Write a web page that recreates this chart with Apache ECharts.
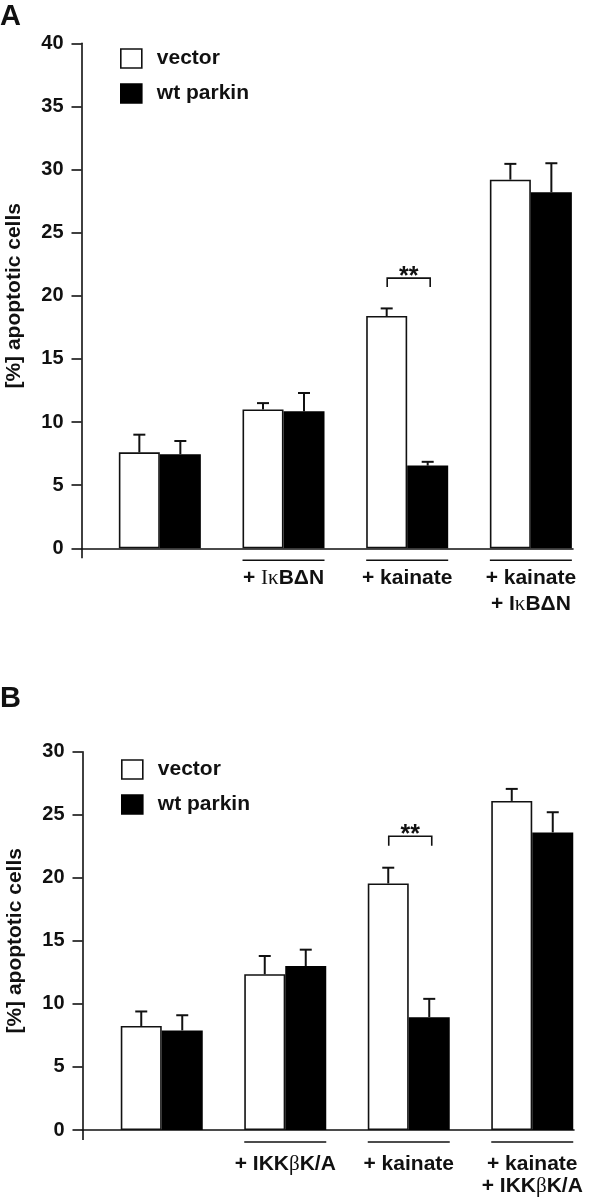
<!DOCTYPE html>
<html><head><meta charset="utf-8">
<script src="https://cdn.jsdelivr.net/npm/echarts@6/dist/echarts.min.js"></script>
<style>html,body{margin:0;padding:0;background:#fff}#c{width:590px;height:1199px}</style>
</head><body><div id="c"></div>
<script>
// ---------- data ----------
const seriesNames = ['vector', 'wt parkin'];
const yAxisTitle = '[%] apoptotic cells';

const panelLetters = ['A', 'B'];

const categoriesA = ['', '+ IκBΔN', '+ kainate', '+ kainate\n+ IκBΔN'];
const vectorA = [7.6, 11.0, 18.4, 29.2];
const vectorErrA = [1.4, 0.5, 0.6, 1.25];
const parkinA = [7.45, 10.85, 6.55, 28.2];
const parkinErrA = [1.05, 1.45, 0.3, 2.3];
const yMaxA = 40;
const sigA = [2, 21.4, 20.7];
const sigLabelA = '**';

const categoriesB = ['', '+ IKKβK/A', '+ kainate', '+ kainate\n+ IKKβK/A'];
const vectorB = [8.25, 12.35, 19.55, 26.1];
const vectorErrB = [1.15, 1.45, 1.25, 0.95];
const parkinB = [7.9, 13.0, 8.95, 23.6];
const parkinErrB = [1.2, 1.3, 1.45, 1.6];
const yMaxB = 30;
const sigB = [2, 23.3, 22.55];
const sigLabelB = '**';

const yStep = 5;

// ---------- styling ----------
const FONT = "'Liberation Sans', Arial, Helvetica, sans-serif";
const SERIF = "'Liberation Serif', 'DejaVu Serif', serif";
const INK = '#111';
const BAR_W = 41;
const FS = 21;

function richLabel(text) {
  const lines = text.split('\n');
  return lines.map(line => {
    let out = '';
    let buf = '';
    // single-line IκB label uses a serif "Iκ" as in the original figure
    const serifI = lines.length === 1 && line.includes('Iκ');
    const chars = [...line];
    for (let k = 0; k < chars.length; k++) {
      const ch = chars[k];
      const isGreek = 'κβ'.includes(ch);
      const isSerifI = serifI && ch === 'I' && chars[k + 1] === 'κ';
      if (isGreek || isSerifI) {
        if (buf) { out += '{t|' + buf + '}'; buf = ''; }
        out += '{g|' + ch + '}';
      } else buf += ch;
    }
    if (buf) out += '{t|' + buf + '}';
    return out;
  }).join('\n');
}

function errRender(offset) {
  return function (params, api) {
    const i = api.value(0), m = api.value(1), e = api.value(2);
    const b = api.coord([i, m]);
    const t = api.coord([i, m + e]);
    const x = b[0] + offset;
    return {
      type: 'group',
      children: [
        { type: 'line', shape: { x1: x, y1: b[1], x2: x, y2: t[1] }, style: { stroke: INK, lineWidth: 2 } },
        { type: 'line', shape: { x1: x - 6, y1: t[1], x2: x + 6, y2: t[1] }, style: { stroke: INK, lineWidth: 2 } }
      ]
    };
  };
}

function underlineRender(params, api) {
  const c = api.coord([api.value(0), 0]);
  const y = c[1] + 12;
  return { type: 'line', shape: { x1: c[0] - BAR_W, y1: y, x2: c[0] + BAR_W, y2: y }, style: { stroke: INK, lineWidth: 1.5 } };
}

function bracketRender(label) {
  return function (params, api) {
    const c = api.coord([api.value(0), api.value(1)]);
    const d = api.coord([api.value(0), api.value(2)]);
    const x1 = c[0] - 20, x2 = c[0] + 23;
    return {
      type: 'group',
      children: [
        { type: 'polyline', shape: { points: [[x1, d[1]], [x1, c[1]], [x2, c[1]], [x2, d[1]]] }, style: { stroke: INK, lineWidth: 1.6, fill: null } },
        { type: 'text', x: (x1 + x2) / 2, y: c[1] - 1, style: { text: label, font: 'bold 25px ' + FONT, fill: INK, align: 'center', verticalAlign: 'middle' } }
      ]
    };
  };
}

function panel(idx, cfg) {
  const g1 = idx * 2, g2 = idx * 2 + 1;
  const grids = [
    { left: cfg.barLeft, width: cfg.barWidthTotal, top: cfg.top, height: cfg.height, outerBoundsMode: 'none', containLabel: false },
    { left: cfg.axisLeft, width: cfg.axisWidth, top: cfg.top, height: cfg.height, outerBoundsMode: 'none', containLabel: false }
  ];
  const xAxes = [
    {
      gridIndex: g1, type: 'category', data: cfg.categories,
      axisLine: { show: false }, axisTick: { show: false },
      axisLabel: {
        interval: 0, margin: cfg.labelMargin, formatter: v => v ? richLabel(v) : '',
        rich: {
          t: { fontFamily: FONT, fontWeight: 'bold', fontSize: FS, color: INK, lineHeight: cfg.labelLineHeight },
          g: { fontFamily: SERIF, fontWeight: 'normal', fontSize: FS, color: INK, lineHeight: cfg.labelLineHeight }
        }
      }
    },
    {
      gridIndex: g2, type: 'value', min: 0, max: 1, splitLine: { show: false },
      axisLine: { show: true, lineStyle: { color: INK, width: 1.6 } },
      axisTick: { show: true, customValues: [0], length: 10, lineStyle: { color: INK, width: 1.6 } },
      axisLabel: { show: false }
    }
  ];
  const yAxes = [
    { gridIndex: g1, type: 'value', min: 0, max: cfg.yMax, interval: yStep, show: false },
    {
      gridIndex: g2, type: 'value', min: 0, max: cfg.yMax, interval: yStep,
      splitLine: { show: false },
      axisLine: { show: true, lineStyle: { color: INK, width: 1.6 } },
      axisTick: { show: true, length: 10, lineStyle: { color: INK, width: 1.6 } },
      axisLabel: { fontFamily: FONT, fontWeight: 'bold', fontSize: 20, color: INK, margin: 18 },
      name: yAxisTitle, nameLocation: 'middle', nameGap: 57,
      nameTextStyle: { fontFamily: FONT, fontWeight: 'bold', fontSize: FS, color: INK }
    }
  ];
  const series = [
    {
      name: seriesNames[0], type: 'bar', xAxisIndex: g1, yAxisIndex: g1,
      data: cfg.vector, barWidth: BAR_W, barGap: '0%',
      itemStyle: { color: '#fff', borderColor: INK, borderWidth: 1.6 }, z: 2
    },
    {
      name: seriesNames[1], type: 'bar', xAxisIndex: g1, yAxisIndex: g1,
      data: cfg.parkin, barWidth: BAR_W, barGap: '0%',
      itemStyle: { color: '#000', borderColor: '#000', borderWidth: 1.6 }, z: 2
    },
    {
      name: 'vector error', type: 'custom', xAxisIndex: g1, yAxisIndex: g1, z: 3, clip: false,
      renderItem: errRender(-BAR_W / 2),
      data: cfg.vector.map((v, i) => [i, v, cfg.vectorErr[i]])
    },
    {
      name: 'wt parkin error', type: 'custom', xAxisIndex: g1, yAxisIndex: g1, z: 3, clip: false,
      renderItem: errRender(BAR_W / 2),
      data: cfg.parkin.map((v, i) => [i, v, cfg.parkinErr[i]])
    },
    {
      name: 'group underline', type: 'custom', xAxisIndex: g1, yAxisIndex: g1, z: 3, clip: false,
      renderItem: underlineRender,
      data: cfg.categories.map((c, i) => c ? [i] : null).filter(Boolean)
    },
    {
      name: 'significance', type: 'custom', xAxisIndex: g1, yAxisIndex: g1, z: 3, clip: false,
      renderItem: bracketRender(cfg.sigLabel),
      data: [cfg.sig]
    }
  ];
  const legend = {
    left: cfg.legendLeft, top: cfg.legendTop, orient: 'vertical',
    itemWidth: 21, itemHeight: 19, itemGap: 14, selectedMode: false,
    padding: 0,
    textStyle: { fontFamily: FONT, fontWeight: 'bold', fontSize: FS, color: INK, padding: [0, 0, 0, 10] },
    data: [
      { name: seriesNames[0], icon: 'rect', itemStyle: { color: '#fff', borderColor: INK, borderWidth: 1.6 } },
      { name: seriesNames[1], icon: 'rect', itemStyle: { color: '#000', borderColor: '#000', borderWidth: 1.6 } }
    ]
  };
  const title = {
    text: panelLetters[idx], left: 0, top: cfg.letterTop, padding: 0,
    textStyle: { fontFamily: FONT, fontWeight: 'bold', fontSize: 29, color: INK }
  };
  return { grids, xAxes, yAxes, series, legend, title };
}

const pA = panel(0, {
  categories: categoriesA, vector: vectorA, vectorErr: vectorErrA, parkin: parkinA, parkinErr: parkinErrA,
  yMax: yMaxA, sig: sigA, sigLabel: sigLabelA,
  barLeft: 98, barWidthTotal: 494.7, axisLeft: 81.5, axisWidth: 491.5, top: 43.3, height: 505,
  labelMargin: 17, labelLineHeight: 26, legendLeft: 120, legendTop: 48, letterTop: 2
});
const pB = panel(1, {
  categories: categoriesB, vector: vectorB, vectorErr: vectorErrB, parkin: parkinB, parkinErr: parkinErrB,
  yMax: yMaxB, sig: sigB, sigLabel: sigLabelB,
  barLeft: 100, barWidthTotal: 494, axisLeft: 82.5, axisWidth: 491.5, top: 751.7, height: 378.3,
  labelMargin: 23.5, labelLineHeight: 22, legendLeft: 121, legendTop: 759, letterTop: 684
});

const chart = echarts.init(document.getElementById('c'), null, { renderer: 'canvas' });
chart.setOption({
  animation: false,
  backgroundColor: '#fff',
  textStyle: { fontFamily: FONT },
  title: [pA.title, pB.title],
  legend: [pA.legend, pB.legend],
  grid: [...pA.grids, ...pB.grids],
  xAxis: [...pA.xAxes, ...pB.xAxes],
  yAxis: [...pA.yAxes, ...pB.yAxes],
  series: [...pA.series, ...pB.series]
});
</script>
</body></html>
